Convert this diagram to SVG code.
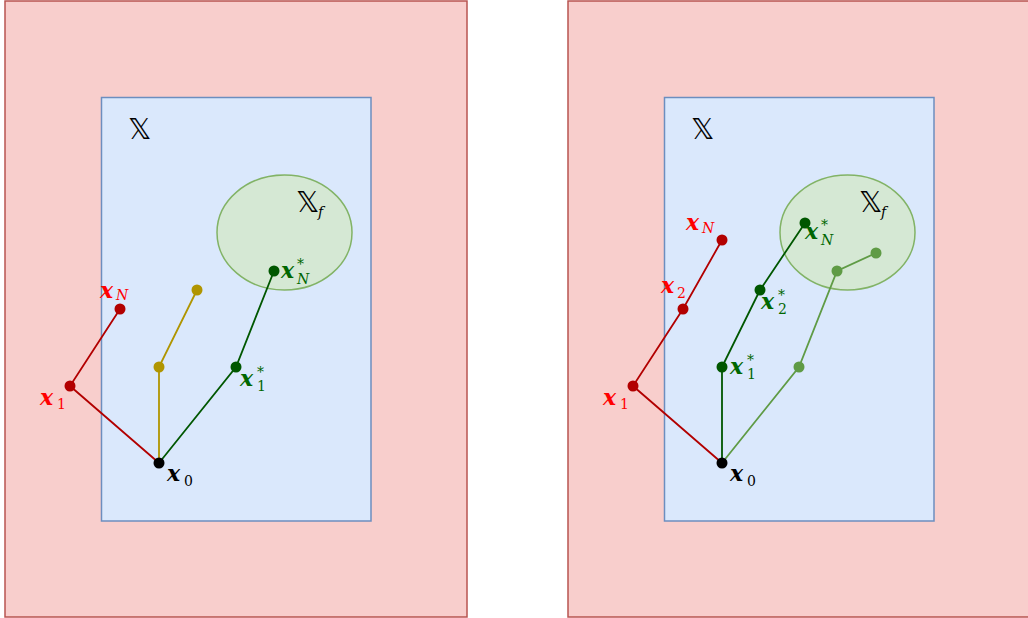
<svg xmlns="http://www.w3.org/2000/svg" width="1028" height="618" viewBox="0 0 1028 618">
<style>
.outer{fill:#f8cecc;stroke:#b85450;stroke-width:1.5}
.inner{fill:#dae8fc;stroke:#6c8ebf;stroke-width:1.5}
.goal{fill:#d5e8d4;stroke:#82b366;stroke-width:1.5}
.lbl{font-family:"DejaVu Serif","Liberation Serif",serif;font-style:italic;font-weight:bold;font-size:22px}
.sub{font-family:"DejaVu Serif","Liberation Serif",serif;font-style:italic;font-weight:normal;font-size:14px}
.subn{font-family:"DejaVu Serif","Liberation Serif",serif;font-style:normal;font-weight:normal;font-size:14px}
.bb{font-family:"DejaVu Sans","DejaVu Serif",serif;font-size:29px;fill:#000}
.red{fill:#ff0000}.dg{fill:#006600}.blk{fill:#000}
.lr{stroke:#b20000;stroke-width:1.8;fill:none}
.ly{stroke:#b09500;stroke-width:1.8;fill:none}
.lg{stroke:#005700;stroke-width:1.8;fill:none}
.ll{stroke:#5f9b45;stroke-width:1.8;fill:none}
.dr{fill:#b20000}.dy{fill:#b09500}.dgd{fill:#005700}.dl{fill:#5f9b45}.dk{fill:#000}
</style>
<g id="left-outer"><rect class="outer" x="5" y="1" width="462" height="616"/></g>
<g id="right-outer"><rect class="outer" x="568" y="1" width="470" height="616"/></g>
<g id="left-X"><rect class="inner" x="101.5" y="97.5" width="269.5" height="423.5"/><text class="bb" x="128" y="139">𝕏</text></g>
<g id="right-X"><rect class="inner" x="664.5" y="97.5" width="269.5" height="423.5"/><text class="bb" x="691" y="139">𝕏</text></g>
<g id="left-Xf"><ellipse class="goal" cx="284.5" cy="232.5" rx="67.5" ry="57.5"/><text class="bb" x="296" y="212">𝕏</text><text class="sub" x="318" y="217">f</text></g>
<g id="right-Xf"><ellipse class="goal" cx="847.5" cy="232.5" rx="67.5" ry="57.5"/><text class="bb" x="859" y="212">𝕏</text><text class="sub" x="881" y="217">f</text></g>
<g id="connectors">
<polyline class="lr" points="159,463 70,386 120,309"/>
<polyline class="ly" points="159,463 159,367 197,290"/>
<polyline class="lg" points="159,463 236,367 274,271"/>
<polyline class="lr" points="722,463 633,386 683,309 722,240"/>
<polyline class="lg" points="722,463 722,367 760,290 805,223"/>
<polyline class="ll" points="722,463 799,367 837,271 876,253"/>
</g>
<g id="left-points">
<circle class="dr" cx="70" cy="386" r="5.5"/><circle class="dr" cx="120" cy="309" r="5.5"/>
<circle class="dy" cx="159" cy="367" r="5.5"/><circle class="dy" cx="197" cy="290" r="5.5"/>
<circle class="dgd" cx="236" cy="367" r="5.5"/><circle class="dgd" cx="274" cy="271" r="5.5"/>
<circle class="dk" cx="159" cy="463" r="5.5"/>
</g>
<g id="right-points">
<circle class="dr" cx="633" cy="386" r="5.5"/><circle class="dr" cx="683" cy="309" r="5.5"/><circle class="dr" cx="722" cy="240" r="5.5"/>
<circle class="dgd" cx="722" cy="367" r="5.5"/><circle class="dgd" cx="760" cy="290" r="5.5"/><circle class="dgd" cx="805" cy="223" r="5.5"/>
<circle class="dl" cx="799" cy="367" r="5.5"/><circle class="dl" cx="837" cy="271" r="5.5"/><circle class="dl" cx="876" cy="253" r="5.5"/>
<circle class="dk" cx="722" cy="463" r="5.5"/>
</g>
<g id="left-labels">
<text class="lbl red" x="100" y="298">x</text><text class="sub red" x="116" y="300">N</text>
<text class="lbl red" x="40" y="405">x</text><text class="subn red" x="57" y="409">1</text>
<text class="lbl blk" x="167" y="481">x</text><text class="subn blk" x="184" y="486">0</text>
<text class="lbl dg" x="240" y="386">x</text><text class="subn dg" x="257" y="391">1</text><text class="subn dg" x="257" y="377">*</text>
<text class="lbl dg" x="281" y="278">x</text><text class="sub dg" x="297" y="284">N</text><text class="subn dg" x="297" y="269">*</text>
</g>
<g id="right-labels">
<text class="lbl red" x="686" y="230">x</text><text class="sub red" x="702" y="233">N</text>
<text class="lbl red" x="661" y="293">x</text><text class="subn red" x="677" y="298">2</text>
<text class="lbl red" x="603" y="405">x</text><text class="subn red" x="620" y="409">1</text>
<text class="lbl blk" x="730" y="481">x</text><text class="subn blk" x="747" y="486">0</text>
<text class="lbl dg" x="730" y="374">x</text><text class="subn dg" x="747" y="379">1</text><text class="subn dg" x="747" y="365">*</text>
<text class="lbl dg" x="761" y="309">x</text><text class="subn dg" x="778" y="314">2</text><text class="subn dg" x="778" y="300">*</text>
<text class="lbl dg" x="805" y="239">x</text><text class="sub dg" x="821" y="245">N</text><text class="subn dg" x="821" y="230">*</text>
</g>
</svg>
